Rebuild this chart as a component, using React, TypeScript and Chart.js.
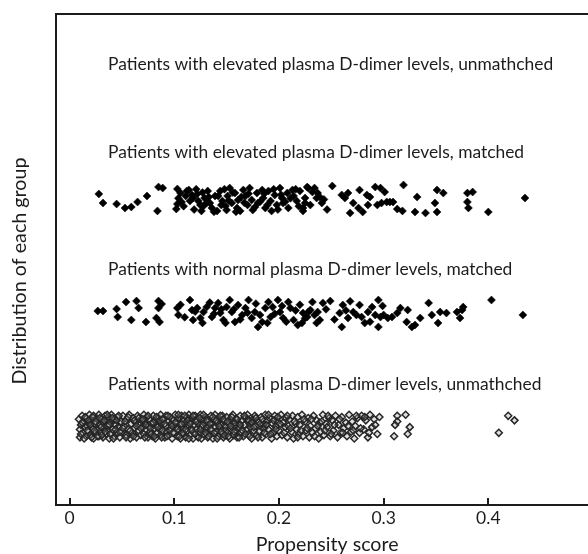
import React, { useEffect, useRef } from "react";
import { Chart, registerables } from "chart.js";

Chart.register(...registerables);

// ---- axis / labels ----
const xTicks = [0, 0.1, 0.2, 0.3, 0.4];
const xTickLabels = ["0", "0.1", "0.2", "0.3", "0.4"];
const xTitle = "Propensity score";
const yTitle = "Distribution of each group";

const groupNames = [
  "Patients with elevated plasma D-dimer levels, unmathched",
  "Patients with elevated plasma D-dimer levels, matched",
  "Patients with normal plasma D-dimer levels, matched",
  "Patients with normal plasma D-dimer levels, unmathched",
];
// vertical level of each group on the (hidden) jitter axis
const groupLevels = [40, 30, 20, 10];
// where each group caption sits (data units)
const captionX = 0.0368;
const captionY = [41.95, 34.18, 23.86, 13.71];
// centre of the x-axis title (data units)
const xTitleAt = 0.246;

// ---- data: [propensity score, vertical jitter] ----
const elevatedUnmatched: [number, number][] = [];

const elevatedMatched: [number, number][] = [
  [0.028, 0.48], [0.032, -0.32], [0.045, -0.41], [0.053, -0.76], [0.059, -0.67],
  [0.065, -0.23], [0.074, 0.3], [0.085, 1.09], [0.089, 1.0], [0.084, -1.02],
  [0.103, 0.92], [0.106, 0.56], [0.112, 0.74], [0.103, -0.41], [0.107, -0.23],
  [0.102, -0.85], [0.114, 0.83], [0.117, 0.39], [0.118, 0.12], [0.115, -0.14],
  [0.122, 0.48], [0.123, -0.14], [0.125, -0.49], [0.128, -0.58], [0.126, -1.02],
  [0.129, 0.12], [0.132, 0.74], [0.134, -0.32], [0.136, -0.76], [0.139, 0.3],
  [0.141, -1.02], [0.144, 0.74], [0.146, -0.14], [0.149, -0.58], [0.150, -0.94],
  [0.151, 0.3], [0.153, 1.0], [0.155, -0.32], [0.158, 0.56], [0.160, -0.76],
  [0.161, -0.05], [0.163, -1.02], [0.166, 0.83], [0.168, 0.3], [0.170, -0.49],
  [0.172, 1.0], [0.174, -0.05], [0.175, -0.94], [0.179, 0.56], [0.180, -0.32],
  [0.184, 0.83], [0.185, 0.12], [0.187, -0.76], [0.190, 0.74], [0.192, -0.14],
  [0.193, -1.02], [0.196, 0.39], [0.198, -0.49], [0.201, 1.0], [0.203, 0.12],
  [0.204, -0.32], [0.208, 0.56], [0.209, -0.76], [0.213, 0.83], [0.214, 0.3],
  [0.217, -0.14], [0.220, 0.74], [0.223, -1.02], [0.225, 0.12], [0.228, 1.0],
  [0.227, 1.09], [0.225, -0.32], [0.223, -0.76], [0.232, 0.65], [0.234, 1.0],
  [0.237, 0.56], [0.239, 0.21], [0.236, 0.12], [0.241, -0.32], [0.251, 1.18],
  [0.260, 0.39], [0.266, 0.56], [0.263, 0.12], [0.268, -1.2], [0.271, -0.32],
  [0.276, -0.76], [0.277, 0.83], [0.284, 0.39], [0.287, 0.21], [0.280, -1.11],
  [0.285, -0.49], [0.292, 1.09], [0.297, 1.0], [0.301, 0.65], [0.294, -0.49],
  [0.298, -0.32], [0.303, -0.23], [0.306, -0.23], [0.309, -0.23], [0.313, -0.85],
  [0.318, -1.02], [0.319, 1.27], [0.330, -1.11], [0.340, -1.2], [0.332, 0.21],
  [0.351, 0.83], [0.357, 0.56], [0.351, -1.11], [0.349, -0.32], [0.380, 0.56],
  [0.385, 0.65], [0.380, -0.23], [0.381, -0.76], [0.400, -1.11], [0.435, 0.12],
  [0.104, 0.1], [0.109, -0.6], [0.111, 0.3], [0.119, -0.9], [0.121, 0.9],
  [0.127, 0.6], [0.131, -0.3], [0.133, 0.2], [0.138, -1.1], [0.142, 0.3],
  [0.145, -0.5], [0.148, 0.9], [0.152, -0.1], [0.156, 0.6], [0.159, -1.1],
  [0.164, 0.2], [0.167, -0.3], [0.171, 0.5], [0.177, -0.7], [0.182, -0.2],
  [0.186, 0.5], [0.189, -0.5], [0.195, 0.9], [0.199, -0.9], [0.202, 0.4],
  [0.206, -0.2], [0.211, 0.1], [0.216, 0.9], [0.219, -0.6], [0.230, -0.5],
  [0.243, 0.0], [0.246, -0.9],
];

const normalMatched: [number, number][] = [
  [0.027, 0.15], [0.032, 0.15], [0.045, 0.33], [0.046, -0.38], [0.054, 0.94],
  [0.064, 1.03], [0.066, 0.41], [0.059, -0.64], [0.073, -0.82], [0.083, -0.47],
  [0.086, -0.82], [0.085, 1.03], [0.088, 0.77], [0.085, 0.41], [0.103, 0.41],
  [0.104, -0.2], [0.115, 1.12], [0.117, 0.24], [0.122, 0.41], [0.118, -0.64],
  [0.125, -0.47], [0.128, 0.06], [0.131, 0.5], [0.136, -0.38], [0.139, 0.41],
  [0.142, 0.86], [0.144, -0.03], [0.147, -0.64], [0.150, 0.5], [0.153, 1.12],
  [0.155, 0.06], [0.158, -0.82], [0.161, 0.68], [0.165, -0.2], [0.168, 0.41],
  [0.171, 1.12], [0.174, -0.47], [0.177, 0.06], [0.180, -1.26], [0.184, -0.82],
  [0.187, 0.41], [0.190, 0.94], [0.192, -0.38], [0.194, 0.5], [0.199, 1.12],
  [0.201, 0.06], [0.204, -0.47], [0.209, 0.94], [0.211, 0.41], [0.214, -0.64],
  [0.218, -1.09], [0.222, -0.91], [0.228, 0.06], [0.223, -0.03], [0.227, -0.38],
  [0.230, 0.24], [0.232, 0.94], [0.234, -0.2], [0.237, 0.06], [0.239, -0.64],
  [0.242, 0.86], [0.249, 1.03], [0.236, -0.91], [0.258, -0.03], [0.261, 0.68],
  [0.260, -1.26], [0.266, -0.47], [0.271, 0.06], [0.274, -0.2], [0.277, 0.68],
  [0.279, -0.38], [0.282, -0.91], [0.285, 0.06], [0.289, 0.5], [0.295, 1.12],
  [0.292, -0.2], [0.297, -0.38], [0.300, -0.2], [0.295, -1.26], [0.304, -0.47],
  [0.308, -0.38], [0.313, -0.03], [0.316, 0.41], [0.322, -0.82], [0.327, -1.26],
  [0.330, -1.09], [0.323, 0.24], [0.335, -0.47], [0.343, 0.86], [0.346, -0.2],
  [0.352, -0.91], [0.354, 0.06], [0.360, -0.03], [0.370, 0.06], [0.376, 0.5],
  [0.375, 0.24], [0.373, -0.47], [0.403, 1.12], [0.433, -0.2],
  [0.106, 0.7], [0.110, -0.4], [0.120, 0.1], [0.127, -0.9], [0.134, 0.9],
  [0.138, -0.1], [0.145, 0.3], [0.149, -0.9], [0.157, 0.3], [0.163, -0.6],
  [0.170, 0.0], [0.178, 0.8], [0.182, -0.2], [0.189, -0.9], [0.196, -0.1],
  [0.203, 0.6], [0.207, -0.8], [0.216, 0.2], [0.220, 0.7], [0.225, -0.5],
  [0.245, 0.3], [0.253, -0.6], [0.264, 0.2], [0.268, 1.0], [0.287, -0.8],
  [0.299, 0.6],
];

const normalUnmatched: [number, number][] = [
  [0.009, 0.6], [0.010, -0.3], [0.010, -1.0], [0.011, 0.1], [0.012, 0.9], [0.013, -0.6], [0.014, 0.4],
  [0.015, -0.1], [0.016, -0.9], [0.016, 0.7], [0.017, 0.0], [0.018, -0.5], [0.019, 1.0], [0.019, 0.3],
  [0.020, -0.8], [0.021, 0.5], [0.022, -0.2], [0.023, 0.9], [0.023, -1.1], [0.024, 0.2], [0.025, -0.6],
  [0.026, 0.7], [0.027, -0.3], [0.028, 1.0], [0.028, -0.9], [0.029, 0.1],
  [0.030, -0.5], [0.031, 0.6], [0.032, -1.0], [0.032, 0.3], [0.033, -0.2], [0.034, 0.9], [0.035, -0.7],
  [0.036, 0.0], [0.037, 0.8], [0.037, -0.4], [0.038, -1.1], [0.039, 0.4],
  [0.040, 1.0], [0.041, -0.3], [0.042, 0.5], [0.043, -0.9], [0.044, 0.1], [0.045, -0.6], [0.046, 0.8],
  [0.047, -0.1], [0.048, -1.0], [0.049, 0.4],
  [0.050, -0.5], [0.051, 0.9], [0.052, 0.0], [0.054, -0.8], [0.055, 0.6], [0.056, -0.3], [0.057, 1.0],
  [0.058, -1.1], [0.059, 0.2],
  [0.060, -0.6], [0.061, 0.7], [0.062, -0.2], [0.063, 0.3], [0.064, -1.0], [0.065, 0.9], [0.066, -0.4],
  [0.067, 0.1], [0.068, -0.8], [0.069, 0.5],
  [0.070, -0.1], [0.071, 1.0], [0.071, -0.7], [0.072, 0.4], [0.073, -0.3], [0.074, 0.8], [0.075, -1.0],
  [0.076, 0.0], [0.076, 0.6], [0.077, -0.5], [0.078, 0.2], [0.079, -0.9],
  [0.080, 0.9], [0.081, -0.2], [0.082, 0.5], [0.082, -1.1], [0.083, 0.1], [0.084, -0.6], [0.085, 0.7],
  [0.086, -0.3], [0.087, 1.0], [0.087, -0.8], [0.088, 0.3], [0.089, -0.4],
  [0.090, 0.6], [0.091, -1.0], [0.092, 0.0], [0.092, 0.9], [0.093, -0.5], [0.094, 0.4], [0.095, -0.8],
  [0.096, 0.8], [0.097, -0.2], [0.097, 0.2], [0.098, -1.1], [0.099, 0.5],
  [0.100, -0.6], [0.101, 1.0], [0.102, -0.1], [0.102, 0.4], [0.103, -0.9], [0.104, 0.7], [0.105, -0.4],
  [0.106, 0.1], [0.106, -1.1], [0.107, 0.9], [0.108, -0.3], [0.109, 0.5], [0.109, -0.7],
  [0.110, 0.2], [0.111, -1.0], [0.112, 0.8], [0.112, -0.5], [0.113, 0.0], [0.114, 1.0], [0.115, -0.8],
  [0.116, 0.4], [0.116, -0.2], [0.117, 0.7], [0.118, -1.1], [0.119, 0.1], [0.119, -0.6],
  [0.120, 0.9], [0.121, -0.3], [0.122, 0.5], [0.122, -0.9], [0.123, 0.2], [0.124, -0.6], [0.125, 1.0],
  [0.126, -0.1], [0.126, -1.1], [0.127, 0.6], [0.128, -0.4], [0.129, 0.3], [0.129, -0.8],
  [0.130, 0.8], [0.131, -0.2], [0.132, -1.0], [0.132, 0.4], [0.133, 0.0], [0.134, -0.7], [0.135, 0.9],
  [0.136, -0.4], [0.136, 0.2], [0.137, -1.1], [0.138, 0.6], [0.139, -0.1], [0.139, 1.0],
  [0.140, -0.5], [0.141, 0.3], [0.142, -0.9], [0.143, 0.7], [0.144, -0.2], [0.145, 0.1], [0.146, -0.7],
  [0.146, 0.9], [0.147, -1.0], [0.148, 0.4], [0.149, -0.4], [0.149, 0.0],
  [0.150, 0.8], [0.151, -0.6], [0.152, 0.2], [0.153, -1.1], [0.154, 0.5], [0.155, -0.3], [0.156, 1.0],
  [0.157, -0.8], [0.158, 0.0], [0.159, 0.6], [0.159, -0.4],
  [0.160, -1.0], [0.161, 0.3], [0.162, -0.2], [0.163, 0.9], [0.164, -0.6], [0.165, 0.5], [0.166, -0.9],
  [0.167, 0.1], [0.168, 0.7], [0.169, -0.4],
  [0.170, 1.0], [0.171, -0.7], [0.172, 0.2], [0.173, -0.1], [0.174, -1.1], [0.175, 0.6], [0.176, -0.4],
  [0.177, 0.9], [0.178, 0.0], [0.179, -0.8],
  [0.180, 0.4], [0.181, -0.5], [0.183, 0.8], [0.184, -1.0], [0.185, 0.1], [0.186, -0.2], [0.187, 1.0],
  [0.188, -0.7], [0.189, 0.5],
  [0.190, -0.3], [0.191, 0.7], [0.193, -1.1], [0.194, 0.2], [0.195, -0.6], [0.196, 0.9], [0.197, 0.0],
  [0.198, -0.9], [0.199, 0.4],
  [0.200, -0.4], [0.202, 1.0], [0.203, -0.8], [0.204, 0.3], [0.206, -0.1], [0.207, 0.7], [0.208, -1.0],
  [0.209, 0.0],
  [0.210, 0.6], [0.212, -0.5], [0.213, 0.9], [0.214, -1.1], [0.216, 0.2], [0.217, -0.3], [0.218, 0.8],
  [0.219, -0.7],
  [0.220, 0.1], [0.222, 1.0], [0.223, -0.9], [0.225, 0.4], [0.226, -0.4], [0.228, 0.7], [0.229, -1.0],
  [0.230, 0.0], [0.232, -0.6], [0.233, 0.9], [0.235, -0.2], [0.236, 0.5], [0.238, -1.1], [0.239, 0.3],
  [0.240, -0.5], [0.242, 1.0], [0.243, -0.8], [0.245, 0.2], [0.246, -0.1], [0.248, 0.7], [0.249, -0.9],
  [0.251, 0.5], [0.252, -0.4], [0.254, 0.9], [0.256, -1.0], [0.257, 0.1], [0.259, -0.6],
  [0.260, 0.8], [0.262, -0.2], [0.264, 0.3], [0.265, -0.9], [0.267, 1.0], [0.269, -0.5],
  [0.270, 0.4], [0.272, -1.1], [0.273, 0.0], [0.275, 0.7], [0.277, -0.6], [0.279, 0.9],
  [0.281, -0.3], [0.283, 0.5], [0.285, -1.0], [0.287, 1.0], [0.289, -0.1],
  [0.291, 0.6], [0.294, -0.7], [0.296, 0.8],
  [0.011, -0.7], [0.012, 0.3], [0.014, -1.1], [0.015, 0.8], [0.017, -0.4], [0.018, 0.5], [0.020, 0.1],
  [0.021, -1.0], [0.022, 0.8], [0.024, -0.4], [0.025, 0.4], [0.027, -0.9], [0.029, 0.7], [0.030, -0.1],
  [0.031, -0.8], [0.033, 0.5], [0.034, -0.5], [0.036, 1.0], [0.038, 0.1], [0.039, -0.7], [0.041, 0.7],
  [0.042, -1.1], [0.044, -0.3], [0.045, 0.5], [0.047, 0.9], [0.048, -0.5],
  [0.051, -0.2], [0.053, 0.4], [0.054, -1.0], [0.056, 0.8], [0.058, -0.4], [0.061, -0.9], [0.062, 0.5],
  [0.064, 0.0], [0.066, 0.7], [0.068, -0.2], [0.070, 0.6], [0.072, -1.0], [0.073, 0.1], [0.075, 0.9],
  [0.077, -0.2], [0.078, -0.7], [0.080, 0.3], [0.081, -0.9], [0.083, 0.8], [0.084, -0.1], [0.086, 0.5],
  [0.088, -1.0], [0.089, 0.6], [0.091, 0.2], [0.093, -0.9], [0.094, 0.9], [0.096, -0.4], [0.098, 0.0],
  [0.099, -0.6],
  [0.101, 0.3], [0.103, -0.3], [0.104, 1.0], [0.105, -0.9], [0.107, 0.2], [0.108, -0.6], [0.110, 0.9],
  [0.111, -0.3], [0.113, 0.5], [0.114, -1.1], [0.115, 0.2], [0.117, -0.4], [0.118, 0.9], [0.120, -0.7],
  [0.121, 0.4], [0.123, -1.0], [0.124, 0.7], [0.125, -0.3], [0.127, 0.1], [0.128, 1.0], [0.130, -0.6],
  [0.131, 0.5], [0.133, -0.9], [0.134, 0.2], [0.135, -0.3], [0.137, 0.8], [0.138, -0.6], [0.140, 0.5],
  [0.141, -1.1], [0.143, 0.0], [0.144, 0.9], [0.145, -0.5], [0.147, 0.6], [0.148, -0.8],
  [0.151, 0.4], [0.152, -0.9], [0.154, 0.0], [0.155, 0.8], [0.157, -0.5], [0.158, 0.3], [0.160, 0.6],
  [0.162, -1.0], [0.163, 0.1], [0.165, -0.4], [0.167, 0.9], [0.168, -0.7], [0.171, 0.5], [0.172, -0.9],
  [0.174, 0.3], [0.176, -0.1], [0.178, 0.7], [0.180, -1.0], [0.182, 0.2], [0.184, 0.6], [0.186, -0.6],
  [0.188, 0.1], [0.190, 1.0], [0.192, -0.7], [0.195, 0.5], [0.197, -0.3], [0.199, 0.8],
  [0.201, 0.2], [0.205, -0.6], [0.208, 0.9], [0.211, -0.2], [0.215, 0.4], [0.218, -1.0], [0.221, -0.4],
  [0.224, 0.6], [0.227, -0.2], [0.231, 0.6], [0.234, -0.9], [0.237, 0.0], [0.241, 0.4], [0.244, -0.4],
  [0.247, 0.9], [0.250, -0.7], [0.253, 0.1], [0.258, 0.6], [0.261, -0.6], [0.266, 0.0], [0.271, -0.4],
  [0.274, 0.9], [0.278, -0.2], [0.282, 0.8], [0.286, -0.6], [0.292, 0.1],
  [0.313, 0.9], [0.321, 1.0], [0.313, 0.4], [0.311, 0.1], [0.325, -0.1], [0.310, -0.9], [0.323, -0.7],
  [0.419, 0.9], [0.425, 0.5], [0.410, -0.6],
];

const groupData = [elevatedUnmatched, elevatedMatched, normalMatched, normalUnmatched];

const FONT = "Lato, 'Open Sans', sans-serif";
const INK = "#1c1c1c";

const framePlugin = {
  id: "frameAndCaptions",
  afterDatasetsDraw(chart: any) {
    const { ctx, chartArea, scales } = chart;
    const xs = scales.x;
    const ys = scales.y;
    ctx.save();
    // frame (left, top, bottom) – open on the right side
    ctx.strokeStyle = INK;
    ctx.lineWidth = 2;
    ctx.beginPath();
    ctx.moveTo(chart.width, chartArea.top);
    ctx.lineTo(chartArea.left, chartArea.top);
    ctx.lineTo(chartArea.left, chartArea.bottom);
    ctx.lineTo(chart.width, chartArea.bottom);
    ctx.stroke();
    // inward tick marks
    ctx.beginPath();
    for (const v of xTicks) {
      const px = Math.round(xs.getPixelForValue(v));
      ctx.moveTo(px, chartArea.bottom);
      ctx.lineTo(px, chartArea.bottom - 7);
    }
    ctx.stroke();
    // group captions
    ctx.fillStyle = INK;
    ctx.font = `17.4px ${FONT}`;
    ctx.textAlign = "left";
    ctx.textBaseline = "middle";
    groupNames.forEach((name, i) => {
      ctx.fillText(name, xs.getPixelForValue(captionX), ys.getPixelForValue(captionY[i]));
    });
    // x axis title
    ctx.font = `19.6px ${FONT}`;
    ctx.textAlign = "center";
    ctx.fillText(xTitle, xs.getPixelForValue(xTitleAt), chartArea.bottom + 40);
    // y axis title
    ctx.font = `19.7px ${FONT}`;
    ctx.translate(20, (chartArea.top + chartArea.bottom) / 2 + 11.5);
    ctx.rotate(-Math.PI / 2);
    ctx.fillText(yTitle, 0, 0);
    ctx.restore();
  },
};

export default function App() {
  const canvasRef = useRef<HTMLCanvasElement | null>(null);

  useEffect(() => {
    const prevMargin = document.body.style.margin;
    document.body.style.margin = "0";
    const canvas = canvasRef.current;
    if (!canvas) return;
    const filled = {
      pointStyle: "rectRot",
      pointRadius: 4,
      backgroundColor: "#000000",
      borderColor: "#000000",
      borderWidth: 0.5,
    };
    const hollow = {
      pointStyle: "rectRot",
      pointRadius: 3.5,
      backgroundColor: "rgba(150,150,150,0.3)",
      borderColor: "#262626",
      borderWidth: 1.5,
    };
    const datasets = groupData.map((pts, i) => ({
      label: groupNames[i],
      data: pts.map(([x, j]) => ({ x, y: groupLevels[i] + j })),
      ...(i === 3 ? hollow : filled),
    }));

    const chart = new Chart(canvas, {
      type: "scatter",
      data: { datasets } as any,
      options: {
        animation: false,
        responsive: false,
        events: [],
        layout: { autoPadding: false, padding: { left: 56, top: 14, right: 0, bottom: 0 } },
        plugins: { legend: { display: false }, tooltip: { enabled: false } },
        scales: {
          x: {
            type: "linear",
            min: -0.0129,
            max: 0.4952,
            afterFit: (s: any) => {
              s.height = 49;
            },
            afterBuildTicks: (s: any) => {
              s.ticks = xTicks.map((v) => ({ value: v }));
            },
            grid: { display: false, drawTicks: false },
            border: { display: false },
            ticks: {
              padding: 3,
              color: INK,
              font: { family: FONT, size: 17.5 },
              maxRotation: 0,
              autoSkip: false,
              callback: (v: any) => {
                const i = xTicks.findIndex((t) => Math.abs(t - Number(v)) < 1e-9);
                return i >= 0 ? xTickLabels[i] : "";
              },
            },
            title: { display: false, text: xTitle },
          },
          y: { type: "linear", display: false, min: 3.03, max: 46.36 },
        },
      } as any,
      plugins: [framePlugin],
    });
    return () => {
      chart.destroy();
      document.body.style.margin = prevMargin;
    };
  }, []);

  return (
    <div style={{ width: 588, height: 554, overflow: "hidden", background: "#fff" }}>
      <canvas ref={canvasRef} width={588} height={554} style={{ display: "block" }} />
    </div>
  );
}
